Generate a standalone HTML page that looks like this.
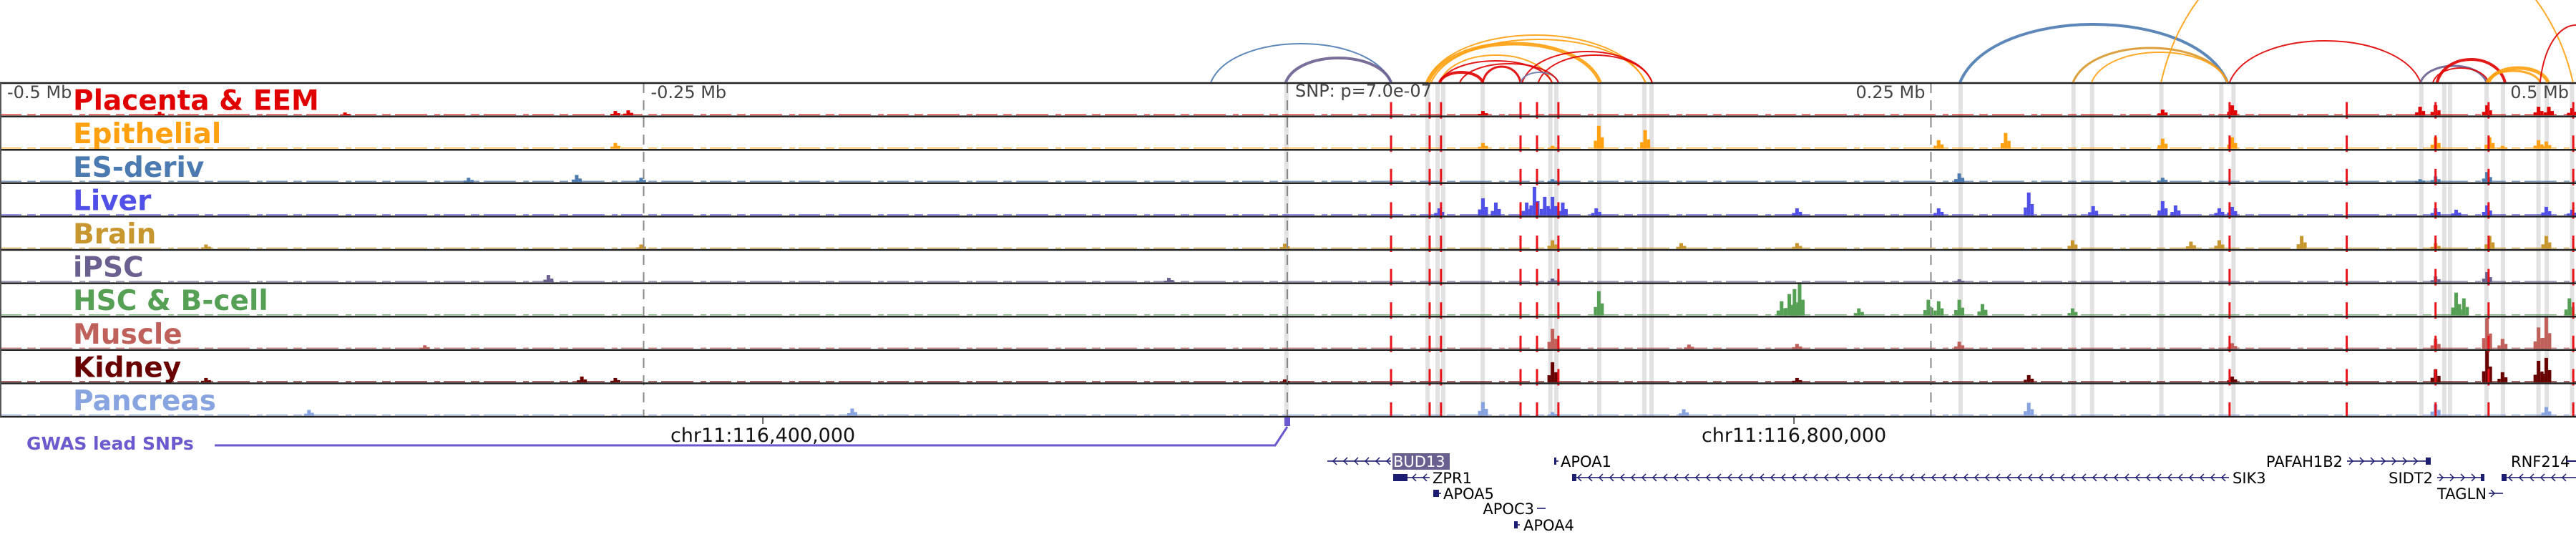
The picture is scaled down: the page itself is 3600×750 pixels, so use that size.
<!DOCTYPE html>
<html><head><meta charset="utf-8">
<style>
html,body{margin:0;padding:0;background:#fff;}
svg{display:block;}
</style></head>
<body>
<svg id="chart" width="3600" height="750" viewBox="0 0 3600 750" xmlns="http://www.w3.org/2000/svg"></svg>
<script>
// ---------- data (genomic positions in kb relative to lead SNP) ----------
const trackNames = ["Placenta & EEM","Epithelial","ES-deriv","Liver","Brain","iPSC","HSC & B-cell","Muscle","Kidney","Pancreas"];
const trackColors = ["#e00000","#ffa010","#4a7ab0","#5050e8","#c8962e","#6a5f8f","#55a055","#c0605a","#680000","#88a4e0"];
const placentaPeaks = [[-438,5],[-366,4],[-261,6],[-256,7],[76,6],[340,8],[367,14],[440,12],[446,14],[466,14],[486,12],[490,12],[499,10]];
const epithelialPeaks = [[-261,8],[76,8],[103,4],[121,32],[139,26],[253,12],[279,22],[340,14],[367,16],[446,16],[467,16],[472,4],[486,12],[489,10]];
const esPeaks = [[-318,6],[-276,10],[-251,6],[103,4],[261,12],[340,6],[440,4],[446,8],[466,14]];
const liverPeaks = [[59,10],[76,24],[81,18],[93,18],[96,40],[100,26],[103,26],[107,18],[120,10],[198,10],[253,10],[288,32],[313,13],[340,20],[345,14],[362,10],[367,12],[446,10],[454,8],[466,14],[489,12],[499,8]];
const brainPeaks = [[-420,6],[-251,6],[-1,7],[103,12],[153,8],[198,8],[305,12],[351,10],[362,12],[394,18],[446,8],[467,18],[489,18]];
const ipscPeaks = [[-287,10],[-46,6],[103,5],[261,4],[446,8],[466,14]];
const hscPeaks = [[121,34],[192,20],[195,30],[197,37],[199,44],[222,10],[249,22],[253,20],[261,22],[270,16],[305,10],[454,32],[457,24],[498,24]];
const musclePeaks = [[-335,5],[103,28],[156,6],[198,7],[261,10],[367,8],[446,14],[466,43],[472,14],[486,30],[489,44]];
const kidneyPeaks = [[-420,6],[-274,8],[-261,6],[-1,4],[103,28],[198,6],[288,10],[367,8],[446,18],[466,44],[472,14],[486,30],[489,34]];
const pancreasPeaks = [[-380,8],[-169,10],[76,19],[103,5],[154,9],[288,18],[446,16],[489,12]];
const allPeaks = [placentaPeaks,epithelialPeaks,esPeaks,liverPeaks,brainPeaks,ipscPeaks,hscPeaks,musclePeaks,kidneyPeaks,pancreasPeaks];
const redLines = [40.3,55.3,59.7,90.6,97,105.3,366,411.5,446,466.6,499.5];
const greyBands = [-0.3,54.5,58.4,60.6,75.9,102.2,104.5,121.2,138.7,141.5,261.5,305.4,312.6,339.5,362.8,367.5,440.5,449.4,451.6,465.8,472.2,486,489.2,499];
const arcStart = [-29.7,-0.6,53.9,54.7,55.9,59.2,59.2,75.9,59.2,91.2,97.5,90.6,67,261.3,305.2,312.4,339.4,366,440.2,446.6,445,466.6,465.8,486.6];
const arcEnd   = [40.3,40.3,139,121.5,139.2,102.8,75.9,90.6,102.8,141.7,141.7,105.3,105.3,365.2,365.2,365.2,499.4,440.2,465.8,473,466.6,489.7,486.6,514.5];
const arcHeight= [54,34,66,54,60,38,14,22,30,43,38,14,26,81,48,42,230,58,23,32,20,20,16,80];
const arcColor = ["#4a7ab0","#6a5f8f","#ffa010","#ffa010","#ffa010","#ffa010","#e00000","#e00000","#e00000","#e00000","#e00000","#6a7ab0","#e00000","#4a7ab0","#d9962a","#ffa010","#ffa010","#e00000","#6a5f8f","#e00000","#e00000","#ffa010","#ffa010","#e00000"];
const arcWidth = [2,4,2,5,2,2,4,3,2,2,2,2,2,4,3,2,2,2,3,4,2,5,3,2];
const axisTickLabels = ["-0.5 Mb","-0.25 Mb","0.25 Mb","0.5 Mb"];
const axisTickKb = [-500,-250,250,500];
const coordKb = [-203.7,196.8];
const coordLabels = ["chr11:116,400,000","chr11:116,800,000"];

// ---------- scales ----------
const X0 = 1799, PXKB = 3.598;
function xs(kb){ return X0 + kb*PXKB; }
const TOP = 116, TH = 46.6, NT = 10;
function trackBottom(i){ return TOP + (i+1)*TH; }

const NS = "http://www.w3.org/2000/svg";
const svg = document.getElementById('chart');
function mk(tag, attrs, parent){
  const e = document.createElementNS(NS, tag);
  for (const k in attrs) e.setAttribute(k, attrs[k]);
  (parent||svg).appendChild(e);
  return e;
}

// grey highlight bands
const gBands = mk('g',{});


greyBands.forEach(kb=>{
  const r = mk('rect',{x:xs(kb)-3,y:TOP,width:6,height:NT*TH,fill:"#e2e2e2"},gBands);
  
  
});

// signal tracks
for (let i=0;i<NT;i++){
  const g = mk('g',{});
  
  
  const b = trackBottom(i);
  // faint fragmented baseline
  mk('line',{x1:0,y1:b-2.5,x2:3600,y2:b-2.5,stroke:trackColors[i],'stroke-width':1.5,'stroke-dasharray':'30 8 12 6 45 10 8 5',opacity:0.75},g);
  allPeaks[i].forEach(p=>{
    const x = xs(p[0]), h = p[1];
    const bar = mk('rect',{x:x-2.5,y:b-1.5-h,width:5,height:h,fill:trackColors[i]},g);
    
    
    mk('rect',{x:x-7,y:b-1.5-h*0.35,width:4.5,height:h*0.35,fill:trackColors[i]},g);
    mk('rect',{x:x+2.5,y:b-1.5-h*0.5,width:4.5,height:h*0.5,fill:trackColors[i]},g);
  });
  const lbl = mk('text',{x:102,y:b-9,fill:trackColors[i],'font-family':'DejaVu Sans, Liberation Sans, sans-serif','font-weight':'bold','font-size':'39'},g);
  lbl.textContent = trackNames[i];
  
  
}

// grey dashed reference lines
[-250,0,250].forEach(kb=>{
  const l = mk('line',{x1:xs(kb),y1:TOP,x2:xs(kb),y2:TOP+NT*TH,stroke:"#888",'stroke-width':2,'stroke-dasharray':'14 10'});
  
  
});

// red dashed lines
const gRed = mk('g',{});


redLines.forEach(kb=>{
  for (let i=0;i<NT;i++){
    const b = trackBottom(i);
    mk('line',{x1:xs(kb),y1:b-20,x2:xs(kb),y2:Math.min(b+3,TOP+NT*TH),stroke:"#e8141c",'stroke-width':3},gRed);
  }
});

// track borders
for (let i=0;i<=NT;i++){
  const y = TOP + i*TH;
  const l = mk('line',{x1:0,y1:y,x2:3600,y2:y,stroke:"#222",'stroke-width':2.5});
  
  
}
mk('line',{x1:1,y1:TOP,x2:1,y2:TOP+NT*TH,stroke:"#555",'stroke-width':2});

// axis tick labels
axisTickKb.forEach((kb,i)=>{
  const t = mk('text',{x: kb<0 ? xs(kb)+10 : xs(kb)-8, y:137,'text-anchor': kb<0?'start':'end',fill:"#444",'font-family':'DejaVu Sans, Liberation Sans, sans-serif','font-size':'24'});
  t.textContent = axisTickLabels[i];
  
  
});
const snpT = mk('text',{x:1810,y:135,fill:"#444",'font-family':'DejaVu Sans, Liberation Sans, sans-serif','font-size':'24'});
snpT.textContent = "SNP: p=7.0e-07";



// arcs
const gArc = mk('g',{fill:'none'});


arcStart.forEach((s,i)=>{
  const x1 = xs(s), x2 = xs(arcEnd[i]), y0 = 115, k = arcHeight[i]*4/3, w = x2-x1;
  const p = mk('path',{d:`M${x1},${y0} C${x1+w*0.12},${y0-k} ${x2-w*0.12},${y0-k} ${x2},${y0}`,stroke:arcColor[i],'stroke-width':arcWidth[i],fill:'none',opacity:0.9},gArc);
  
  
});

// coordinate labels
coordKb.forEach((kb,i)=>{
  mk('line',{x1:xs(kb),y1:582,x2:xs(kb),y2:592,stroke:"#333",'stroke-width':1.5});
  const t = mk('text',{x:xs(kb),y:617,'text-anchor':'middle',fill:"#111",'font-family':'DejaVu Sans, Liberation Sans, sans-serif','font-size':'27'});
  t.textContent = coordLabels[i];
  
  
});

// GWAS track
const gw = mk('text',{x:37,y:628,fill:"#6a5acd",'font-family':'DejaVu Sans, Liberation Sans, sans-serif','font-weight':'bold','font-size':'25'});
gw.textContent = "GWAS lead SNPs";


const gwl = mk('polyline',{points:"300,622 1782,622 1799,596",fill:'none',stroke:"#6a5acd",'stroke-width':3});


const gwb = mk('rect',{x:1795,y:583,width:8,height:12,fill:"#6a5acd"});



// genes
const geneColor = "#1c1c70";
function gene(name, x1, x2, y, dir, label, lx, anchor, boxAt, highlight){
  const g = mk('g',{});
  
  
  mk('line',{x1:x1,y1:y,x2:x2,y2:y,stroke:geneColor,'stroke-width':2,opacity:0.8},g);
  for (let x=x1+8; x<x2-4; x+=15){
    const d = dir<0 ? `M${x+5},${y-5} L${x},${y} L${x+5},${y+5}` : `M${x-5},${y-5} L${x},${y} L${x-5},${y+5}`;
    mk('path',{d:d,stroke:geneColor,'stroke-width':1.5,fill:'none'},g);
  }
  if (boxAt) mk('rect',{x:boxAt[0],y:y-5,width:boxAt[1],height:10,fill:geneColor},g);
  if (label){
    if (highlight){
      mk('rect',{x:lx-1,y:y-11,width:80,height:23,fill:"#6a5f8f"},g);
    }
    const t = mk('text',{x:lx,y:y+8,'text-anchor':anchor,fill:highlight?"#fff":"#000",'font-family':'DejaVu Sans, Liberation Sans, sans-serif','font-size':21},g);
    t.textContent = name;
  }
}
gene("BUD13",1855,1944,644,-1,true,1947,'start',null,true);
gene("ZPR1",1966,1998,667,-1,true,2002,'start',[1947,20],false);
gene("APOA5",2010,2014,689,-1,true,2017,'start',[2003,8],false);
gene("APOC3",2148,2160,710,1,true,2144,'end',null,false);
gene("APOA4",2121,2124,733,-1,true,2129,'start',[2116,5],false);
gene("APOA1",2172,2178,644,-1,true,2181,'start',[2172,3],false);
gene("SIK3",2197,3115,667,-1,true,3120,'start',[2197,6],false);
gene("PAFAH1B2",3280,3397,644,1,true,3274,'end',[3390,7],false);
gene("SIDT2",3406,3472,667,1,true,3400,'end',[3467,5],false);
gene("TAGLN",3478,3498,689,1,true,3475,'end',null,false);
gene("RNF214",3498,3600,667,-1,false,0,'start',[3496,7],false);
const rt = mk('text',{x:3509,y:652,fill:"#000",'font-family':'DejaVu Sans, Liberation Sans, sans-serif','font-size':'21'});
rt.textContent = "RNF214";


mk('line',{x1:3586,y1:644,x2:3600,y2:644,stroke:geneColor,'stroke-width':2});
</script>
</body></html>
